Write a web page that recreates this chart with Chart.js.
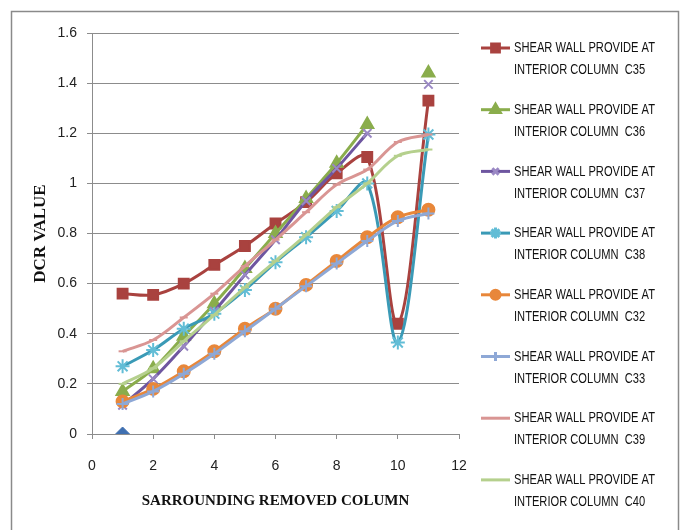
<!DOCTYPE html>
<html>
<head>
<meta charset="utf-8">
<script src="https://cdn.jsdelivr.net/npm/chart.js@4/dist/chart.umd.min.js"></script>
<style>
  html, body { margin: 0; padding: 0; background: #ffffff; }
  #wrap { width: 681px; height: 530px; }
</style>
</head>
<body>
<div id="wrap"><canvas id="chart" width="681" height="530"></canvas></div>
<script>
// Number of surrounding columns removed
const COLUMNS_REMOVED = [1, 2, 3, 4, 5, 6, 7, 8, 9, 10, 11];

// DCR values per shear wall position (null = no value)
const C35 = [0.56, 0.555, 0.60, 0.675, 0.75, 0.84, 0.925, 1.04, 1.105, 0.44, 1.33];
const C36 = [0.17, 0.26, 0.39, 0.52, 0.66, 0.80, 0.94, 1.08, 1.235, null, 1.44];
const C37 = [0.115, 0.22, 0.35, 0.49, 0.635, 0.775, 0.93, 1.06, 1.20, null, 1.395];
const C38 = [0.27, 0.335, 0.42, 0.48, 0.575, 0.685, 0.785, 0.89, 1.00, 0.365, 1.195];
const C32 = [0.13, 0.18, 0.25, 0.33, 0.42, 0.50, 0.595, 0.69, 0.785, 0.865, 0.895];
const C33 = [0.12, 0.17, 0.24, 0.32, 0.41, 0.50, 0.59, 0.68, 0.77, 0.85, 0.88];
const C39 = [0.33, 0.375, 0.465, 0.56, 0.67, 0.775, 0.885, 0.995, 1.055, 1.165, 1.195];
const C40 = [0.20, 0.262, 0.37, 0.475, 0.585, 0.69, 0.795, 0.905, 1.00, 1.11, 1.135];
const BASE_X = [1];
const BASE = [0];

const SERIES_NAMES = ['C35', 'C36', 'C37', 'C38', 'C32', 'C33', 'C39', 'C40'];
const LEGEND_LINE1 = 'SHEAR WALL PROVIDE AT';
const LEGEND_LINE2 = 'INTERIOR COLUMN  ';

const Y_TITLE = 'DCR VALUE';
const X_TITLE = 'SARROUNDING REMOVED COLUMN';

const AXIS_GRAY = '#8c8c8c';

function points(xs, ys) {
  return xs.map((x, i) => ({ x: x, y: ys[i] }));
}

const styles = [
  { line: '#a9423f', mark: '#a9423f', shape: 'rect',     r: 7 },
  { line: '#8aad4c', mark: '#8aad4c', shape: 'triangle', r: 7 },
  { line: '#6e56a0', mark: '#9a88c4', shape: 'crossRot', r: 6 },
  { line: '#3a9ab6', mark: '#62bdd6', shape: 'star',     r: 7 },
  { line: '#e8873a', mark: '#e8873a', shape: 'circle',   r: 6 },
  { line: '#8ea8d6', mark: '#8ea8d6', shape: 'cross',    r: 6 },
  { line: '#d99593', mark: '#d99593', shape: 'line',     r: 4 },
  { line: '#b5d08d', mark: '#b5d08d', shape: 'line',     r: 4 }
];

const seriesValues = [C35, C36, C37, C38, C32, C33, C39, C40];

const datasets = seriesValues.map((vals, i) => ({
  label: SERIES_NAMES[i],
  data: points(COLUMNS_REMOVED, vals),
  borderColor: styles[i].line,
  backgroundColor: styles[i].mark,
  pointBorderColor: styles[i].mark,
  pointBackgroundColor: styles[i].mark,
  pointStyle: styles[i].shape,
  pointRadius: styles[i].r,
  pointBorderWidth: 2,
  borderWidth: 3,
  tension: 0.34,
  spanGaps: false,
  fill: false,
  order: 20 - i
}));

datasets.push({
  label: 'base',
  data: points(BASE_X, BASE),
  showLine: false,
  borderColor: '#3f6fb0',
  backgroundColor: '#3f6fb0',
  pointStyle: 'rectRot',
  pointRadius: 7,
  pointBorderWidth: 1,
  order: 1
});

// Outer frame of the chart
const framePlugin = {
  id: 'frame',
  beforeDraw(chart) {
    const ctx = chart.ctx;
    ctx.save();
    ctx.fillStyle = '#ffffff';
    ctx.fillRect(0, 0, chart.width, chart.height);
    ctx.strokeStyle = '#8a8a8a';
    ctx.lineWidth = 1.5;
    ctx.strokeRect(11.5, 11.5, 667, 540);
    ctx.restore();
  }
};

// Two-line legend on the right, text condensed to fit its column
const sideLegendPlugin = {
  id: 'sideLegend',
  afterDraw(chart) {
    const ctx = chart.ctx;
    const x0 = 481, x1 = 510, tx = 514, top = 48, step = 61.7, textWidth = 141;
    ctx.save();
    ctx.font = '15px "Liberation Sans", Arial, sans-serif';
    const sx = textWidth / ctx.measureText(LEGEND_LINE1).width;
    ctx.textBaseline = 'middle';
    ctx.textAlign = 'left';
    for (let i = 0; i < SERIES_NAMES.length; i++) {
      const y = top + i * step;
      const st = styles[i];
      ctx.strokeStyle = st.line;
      ctx.lineWidth = 3;
      ctx.beginPath();
      ctx.moveTo(x0, y);
      ctx.lineTo(x1, y);
      ctx.stroke();
      if (st.shape !== 'line') {
        ctx.strokeStyle = st.mark;
        ctx.fillStyle = st.mark;
        Chart.helpers.drawPoint(ctx, {
          pointStyle: st.shape, radius: st.r - 1.5, borderWidth: 2, rotation: 0
        }, (x0 + x1) / 2, y);
      }
      ctx.fillStyle = '#111111';
      ctx.save();
      ctx.translate(tx, y);
      ctx.scale(sx, 1);
      ctx.fillText(LEGEND_LINE1, 0, 0);
      ctx.fillText(LEGEND_LINE2 + SERIES_NAMES[i], 0, 22);
      ctx.restore();
    }
    ctx.restore();
  }
};

new Chart(document.getElementById('chart'), {
  type: 'line',
  data: { datasets: datasets },
  options: {
    responsive: false,
    animation: false,
    events: [],
    layout: { padding: { top: 33, right: 222, left: 0, bottom: 0 } },
    plugins: {
      legend: { display: false },
      tooltip: { enabled: false }
    },
    scales: {
      x: {
        type: 'linear',
        min: 0,
        max: 12,
        afterFit(scale) { scale.height = 96; },
        ticks: {
          stepSize: 2,
          color: '#222222',
          padding: 19,
          font: { family: '"Liberation Sans", Arial, sans-serif', size: 14 }
        },
        grid: {
          drawOnChartArea: false,
          drawTicks: true,
          tickLength: 5,
          color: AXIS_GRAY
        },
        border: { color: AXIS_GRAY, width: 1 },
        title: {
          display: true,
          text: X_TITLE,
          color: '#111111',
          font: { family: '"Liberation Serif", "Times New Roman", serif', size: 15, weight: 'bold' },
          padding: { top: 0, bottom: 20 }
        }
      },
      y: {
        min: 0,
        max: 1.6,
        afterFit(scale) { scale.width = 92; },
        ticks: {
          stepSize: 0.2,
          color: '#222222',
          padding: 10,
          font: { family: '"Liberation Sans", Arial, sans-serif', size: 14 },
          callback: (v) => String(Number(v.toFixed(1)))
        },
        grid: {
          drawTicks: true,
          tickLength: 5,
          color: AXIS_GRAY
        },
        border: { color: AXIS_GRAY, width: 1 },
        title: {
          display: true,
          text: Y_TITLE,
          color: '#111111',
          font: { family: '"Liberation Serif", "Times New Roman", serif', size: 17, weight: 'bold' },
          padding: { top: 30, bottom: 0 }
        }
      }
    }
  },
  plugins: [framePlugin, sideLegendPlugin]
});
</script>
</body>
</html>
